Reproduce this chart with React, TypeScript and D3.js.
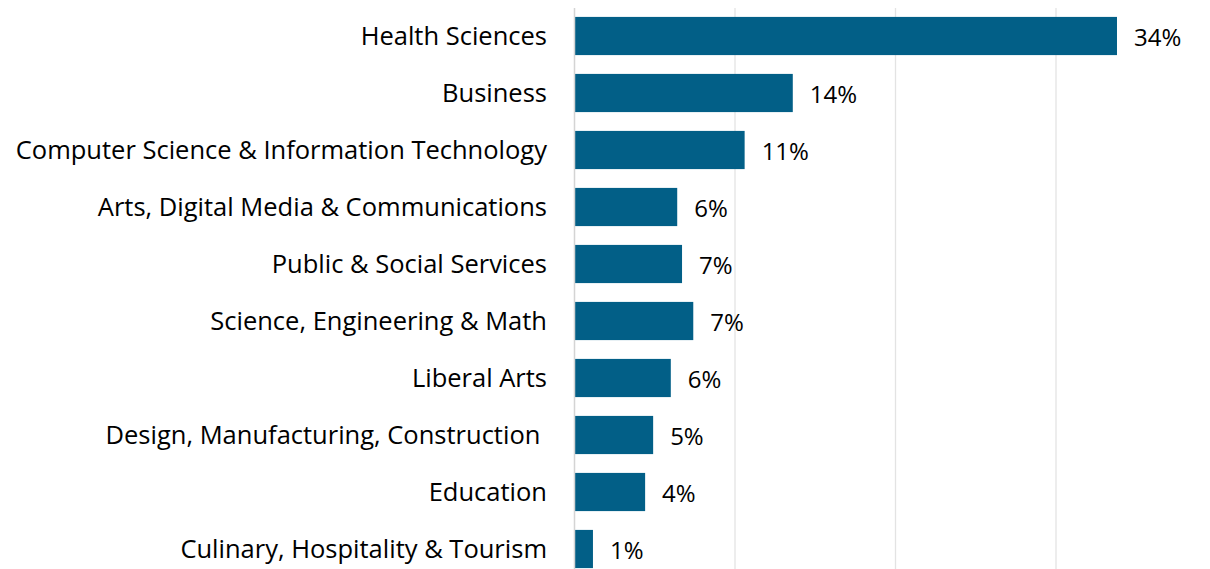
import React from "react";
import * as d3 from "d3";

const categories = [
  "Health Sciences",
  "Business",
  "Computer Science & Information Technology",
  "Arts, Digital Media & Communications",
  "Public & Social Services",
  "Science, Engineering & Math",
  "Liberal Arts",
  "Design, Manufacturing, Construction ",
  "Education",
  "Culinary, Hospitality & Tourism",
];
const values = [0.338, 0.136, 0.106, 0.064, 0.067, 0.074, 0.06, 0.049, 0.044, 0.0115];
const gridTicks = [0.1, 0.2, 0.3];

const W = 1210;
const H = 569;
const FONT = "'Open Sans', sans-serif";

export default function App() {
  const x = d3.scaleLinear().domain([0, 0.4]).range([574.5, 1216.5]);
  const y = d3.scaleBand<string>().domain(categories).range([7.5, 577.5]).paddingInner(0.33).paddingOuter(0.165);
  const fmt = d3.format(".0%");
  return (
    <svg width={W} height={H} style={{ position: "absolute", left: 0, top: 0, background: "#fff" }}>
      {gridTicks.map((t) => (
        <line key={t} x1={x(t)} x2={x(t)} y1={8} y2={H} stroke="#e3e3e3" strokeWidth={1.3} />
      ))}
      {categories.map((c, i) => (
        <g key={c}>
          <rect x={x(0)} y={y(c)} width={x(values[i]) - x(0)} height={y.bandwidth()} fill="#025f87" />
          <text
            x={547}
            y={(y(c) as number) + y.bandwidth() / 2 - 1.5}
            textAnchor="end"
            dominantBaseline="central"
            fontFamily={FONT}
            fontSize={25.5}
            fill="#000"
            style={{ whiteSpace: "pre" }}
          >
            {c}
          </text>
          <text
            x={x(values[i]) + 17}
            y={(y(c) as number) + y.bandwidth() / 2}
            dominantBaseline="central"
            fontFamily={FONT}
            fontSize={24}
            fill="#000"
          >
            {fmt(values[i])}
          </text>
        </g>
      ))}
      <line x1={x(0)} x2={x(0)} y1={8} y2={H} stroke="#d4d4d4" strokeWidth={1.5} />
    </svg>
  );
}
